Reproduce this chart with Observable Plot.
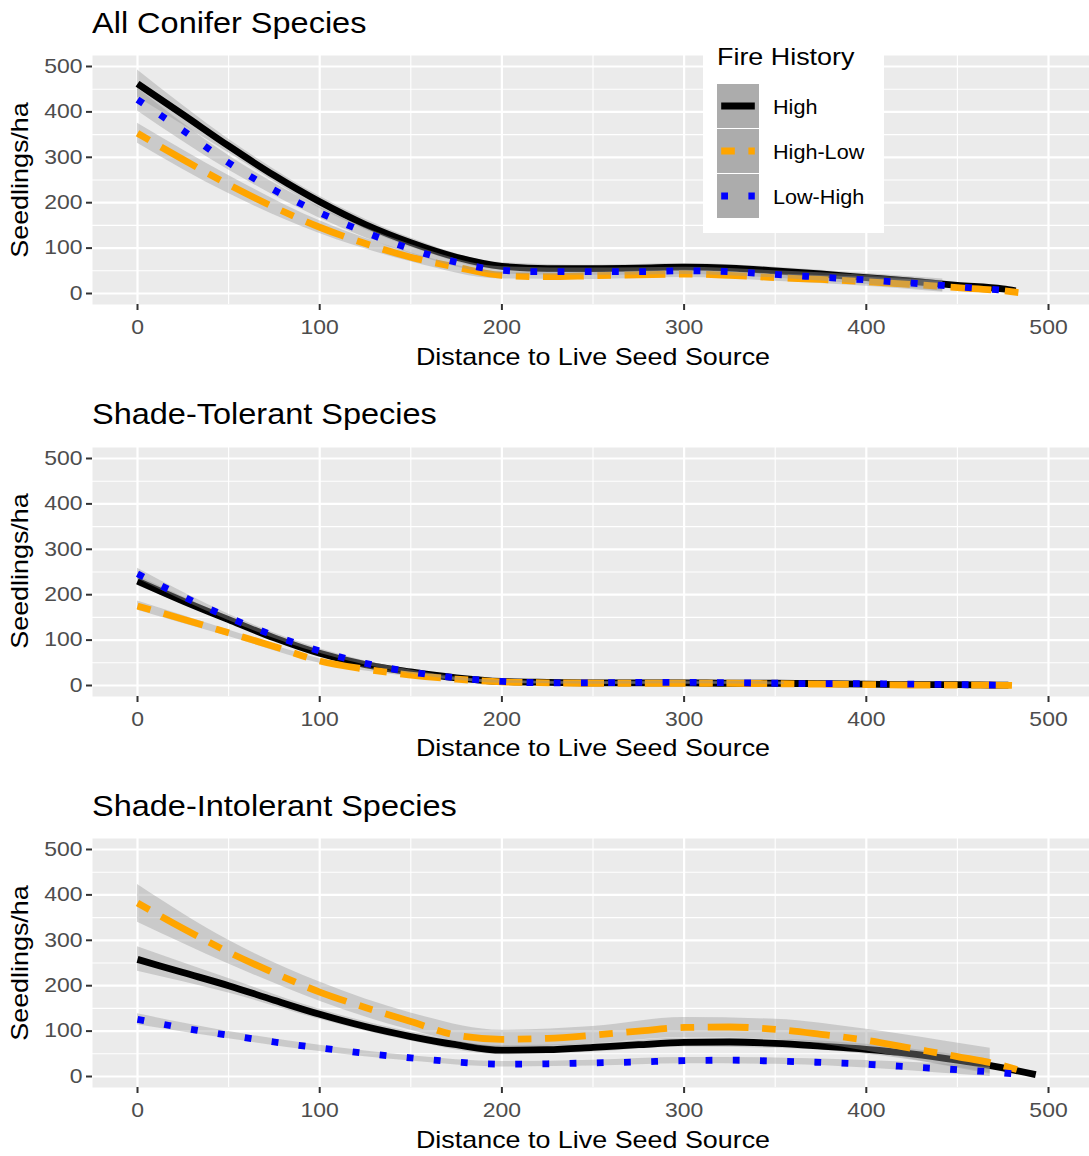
<!DOCTYPE html>
<html><head><meta charset="utf-8">
<script src="https://cdn.jsdelivr.net/npm/d3@7"></script>
<script src="https://cdn.jsdelivr.net/npm/@observablehq/plot@0.6"></script>
<style>
body{margin:0;background:#fff;}
#root{position:relative;width:1089px;height:1156px;overflow:hidden;font-family:"Liberation Sans",Arial,sans-serif;background:#fff;}
.t{position:absolute;white-space:nowrap;color:#000;}
.p{position:absolute;left:0;}
</style></head><body><div id="root"></div>
<script>
// ---------- labels ----------
const panelTitles = ["All Conifer Species", "Shade-Tolerant Species", "Shade-Intolerant Species"];
const seriesNames = ["High", "High-Low", "Low-High"];
const seriesColors = ["#000000", "#FFA500", "#0000FF"];
const legendTitle = "Fire History";
const xLabel = "Distance to Live Seed Source";
const yLabel = "Seedlings/ha";
const xTicks = [0, 100, 200, 300, 400, 500];
const yTicks = [0, 100, 200, 300, 400, 500];
const xMinor = [50, 150, 250, 350, 450];
const yMinor = [50, 150, 250, 350, 450];

// ---------- smoothed curves (distance grid) ----------
const dist = [0,25,50,75,100,125,150,175,200,225,250,275,300,325,350,375,400,425,450,475];

// All Conifer Species
const conHigh    = [462,394,325,260,202,152,112,80,60,55,55,56,58,56,50,43,35,27,18,10];
const conHighLow = [353,295,240,190,146,110,80,58,40,37,39,41,43,40,35,31,26,20,13,6];
const conLowHigh = [427,359,288,228,178,135,98,69,51,48,48,48,50,48,42,36,30,23,15,7];
const conEndX = [482, 486, 480];
const conEndY = [6, 1, 5];
const conBandX = [0,50,100,150,200,250,300,350,400,442];
const conHighLo    = [432,310,188,102,52,48,49,41,26,10];
const conHighHi    = [492,340,214,122,68,62,66,58,44,32];
const conHighLowLo = [331,220,132,70,32,31,35,27,16,3];
const conHighLowHi = [375,260,160,90,48,47,51,43,36,27];
const conLowHighLo = [402,272,166,88,43,40,42,34,20,5];
const conLowHighHi = [452,304,190,108,59,56,58,50,40,28];

// Shade-Tolerant Species
const tolHigh    = [230,186,145,105,71,46,30,17,9,7,6,6,6,5,5,4,3,2,2,1];
const tolHighLow = [175,146,116,86,54,36,23,14,8,6,5,5,5,5,4,3,2,1,1,0.5];
const tolLowHigh = [246,196,150,110,76,49,30,17,9,6,6,7,7,6,5,4,4,3,2,1];
const tolEndX = [478, 481, 477];
const tolEndY = [1, 0, 1];
const tolBandX = [0,50,100,150,200,250,300,355];
const tolHighLo    = [220,139,66,27,6,3,3,2];
const tolHighHi    = [242,152,77,34,12,9,9,8];
const tolHighLowLo = [166,108,49,20,5,2,2,1];
const tolHighLowHi = [186,122,59,27,11,8,8,7];
const tolLowHighLo = [235,143,71,26,5,3,4,2];
const tolLowHighHi = [258,157,81,34,11,9,10,8];

// Shade-Intolerant Species
const intHigh    = [258,229,200,168,137,110,88,70,58,59,64,70,75,76,73,67,60,50,36,19];
const intHighLow = [382,326,274,228,186,152,121,91,82,84,91,100,108,109,104,93,80,62,44,24];
const intLowHigh = [126,107,91,76,63,51,41,32,27,28,30,32,35,36,34,31,27,21,15,8];
const intEndX = [493, 489, 484];
const intEndY = [4, 8, 5];
const intBandX = [0,50,100,150,200,250,300,350,400,440,468];
const intHighLo    = [232,184,126,78,48,54,65,62,49,27,8];
const intHighHi    = [286,216,148,98,68,72,85,82,71,53,38];
const intHighLowLo = [340,248,166,102,64,72,86,82,56,26,5];
const intHighLowHi = [423,300,208,140,102,110,130,126,104,80,62];
const intLowHighLo = [114,83,55,34,21,23,28,27,19,8,0];
const intLowHighHi = [138,99,69,46,33,36,42,41,35,28,20];

// ---------- assemble ----------
const panels = [
  {lines:[conHigh,conHighLow,conLowHigh], endX:conEndX, endY:conEndY, bandX:conBandX,
   bands:[[conHighLo,conHighHi],[conHighLowLo,conHighLowHi],[conLowHighLo,conLowHighHi]]},
  {lines:[tolHigh,tolHighLow,tolLowHigh], endX:tolEndX, endY:tolEndY, bandX:tolBandX,
   bands:[[tolHighLo,tolHighHi],[tolHighLowLo,tolHighLowHi],[tolLowHighLo,tolLowHighHi]]},
  {lines:[intHigh,intHighLow,intLowHigh], endX:intEndX, endY:intEndY, bandX:intBandX,
   bands:[[intHighLo,intHighHi],[intHighLowLo,intHighLowHi],[intLowHighLo,intLowHighHi]]}
];

const LW = 6.8;
const dashes = [null, `${2*LW},${2*LW},${6*LW},${2*LW}`, `${LW},${3*LW}`];
const STRETCH = 1.12;
const TICK_STRETCH = 1.16;
const BLOCK = 391.5;
const FONT = "Liberation Sans, Arial, sans-serif";
const root = document.getElementById("root");

function addDiv(text, css) {
  const d = document.createElement("div");
  d.className = "t";
  d.textContent = text;
  Object.assign(d.style, css);
  root.appendChild(d);
  return d;
}

panels.forEach((P, i) => {
  const oy = i * BLOCK;
  const marks = [
    Plot.frame({fill: "#EBEBEB", stroke: "none"}),
    Plot.gridX(xMinor, {stroke: "#FFFFFF", strokeOpacity: 1, strokeWidth: 1.1}),
    Plot.gridY(yMinor, {stroke: "#FFFFFF", strokeOpacity: 1, strokeWidth: 1.1}),
    Plot.gridX(xTicks, {stroke: "#FFFFFF", strokeOpacity: 1, strokeWidth: 2.2}),
    Plot.gridY(yTicks, {stroke: "#FFFFFF", strokeOpacity: 1, strokeWidth: 2.2})
  ];
  seriesNames.forEach((name, s) => {
    const band = P.bandX.map((x, j) => ({x, lo: P.bands[s][0][j], hi: P.bands[s][1][j], series: name}));
    const line = dist.map((x, j) => ({x, y: P.lines[s][j], series: name}));
    line.push({x: P.endX[s], y: P.endY[s], series: name});
    marks.push(Plot.areaY(band, {x: "x", y1: "lo", y2: "hi", fill: "#999999", fillOpacity: 0.4, curve: "monotone-x"}));
    const opts = {x: "x", y: "y", stroke: seriesColors[s], strokeWidth: LW, strokeLinecap: "butt", strokeLinejoin: "round", curve: "monotone-x"};
    if (dashes[s]) opts.strokeDasharray = dashes[s];
    marks.push(Plot.line(line, opts));
  });
  marks.push(Plot.axisX(xTicks, {label: null, tickSize: 6, tickPadding: 9, stroke: "#333333", strokeWidth: 2, fill: "#4D4D4D", fontSize: 19.8}));
  marks.push(Plot.axisY(yTicks, {label: null, tickSize: 6, tickPadding: 4, stroke: "#333333", strokeWidth: 2, fill: "#4D4D4D", fontSize: 19.8}));

  const svg = Plot.plot({
    width: 1089, height: 346,
    marginTop: 10, marginBottom: 87, marginLeft: 92, marginRight: 0,
    style: {fontFamily: FONT, fontSize: "19.8px", background: "transparent", overflow: "visible"},
    x: {domain: [-24.7, 522.5]},
    y: {domain: [-24.2, 524.2]},
    marks
  });
  const holder = document.createElement("div");
  holder.className = "p";
  holder.style.top = (oy + 45) + "px";
  holder.appendChild(svg);
  root.appendChild(holder);
  svg.querySelectorAll("text").forEach(t => {
    const w = t.getComputedTextLength();
    if (w > 0) { t.setAttribute("textLength", (w * TICK_STRETCH).toFixed(2)); t.setAttribute("lengthAdjust", "spacingAndGlyphs"); }
  });

  // panel title
  addDiv(panelTitles[i], {left: "92px", top: (oy + 8.5) + "px", fontSize: "29px", lineHeight: "29px",
    transform: `scaleX(${STRETCH})`, transformOrigin: "0 50%"});
  // x axis title
  addDiv(xLabel, {left: "93px", width: "1000px", textAlign: "center", top: (oy + 344.7) + "px",
    fontSize: "24px", lineHeight: "24px", transform: `scaleX(${STRETCH})`, transformOrigin: "50% 50%"});
  // y axis title
  addDiv(yLabel, {left: "-129.8px", width: "300px", height: "24px", textAlign: "center", top: (oy + 167.5) + "px",
    fontSize: "24px", lineHeight: "24px", transform: `rotate(-90deg) scaleX(${STRETCH})`, transformOrigin: "50% 50%"});
});

// ---------- legend ----------
const box = document.createElement("div");
Object.assign(box.style, {position: "absolute", left: "703px", top: "38px", width: "181px", height: "195px", background: "#FFFFFF"});
root.appendChild(box);
addDiv(legendTitle, {left: "717px", top: "44.7px", fontSize: "24px", lineHeight: "24px",
  transform: `scaleX(${STRETCH})`, transformOrigin: "0 50%"});
const NS = "http://www.w3.org/2000/svg";
seriesNames.forEach((name, s) => {
  const k = document.createElementNS(NS, "svg");
  k.setAttribute("width", 42); k.setAttribute("height", 44);
  Object.assign(k.style, {position: "absolute", left: "717px", top: (84 + 45 * s) + "px"});
  const r = document.createElementNS(NS, "rect");
  r.setAttribute("width", 42); r.setAttribute("height", 44); r.setAttribute("fill", "#ACACAC");
  k.appendChild(r);
  const l = document.createElementNS(NS, "line");
  l.setAttribute("x1", 4.2); l.setAttribute("x2", 37.8); l.setAttribute("y1", 22); l.setAttribute("y2", 22);
  l.setAttribute("stroke", seriesColors[s]); l.setAttribute("stroke-width", LW);
  if (dashes[s]) l.setAttribute("stroke-dasharray", dashes[s]);
  k.appendChild(l);
  root.appendChild(k);
  addDiv(name, {left: "773px", top: (97.4 + 45 * s) + "px", fontSize: "20px", lineHeight: "20px",
    transform: `scaleX(1.08)`, transformOrigin: "0 50%"});
});
</script></body></html>
